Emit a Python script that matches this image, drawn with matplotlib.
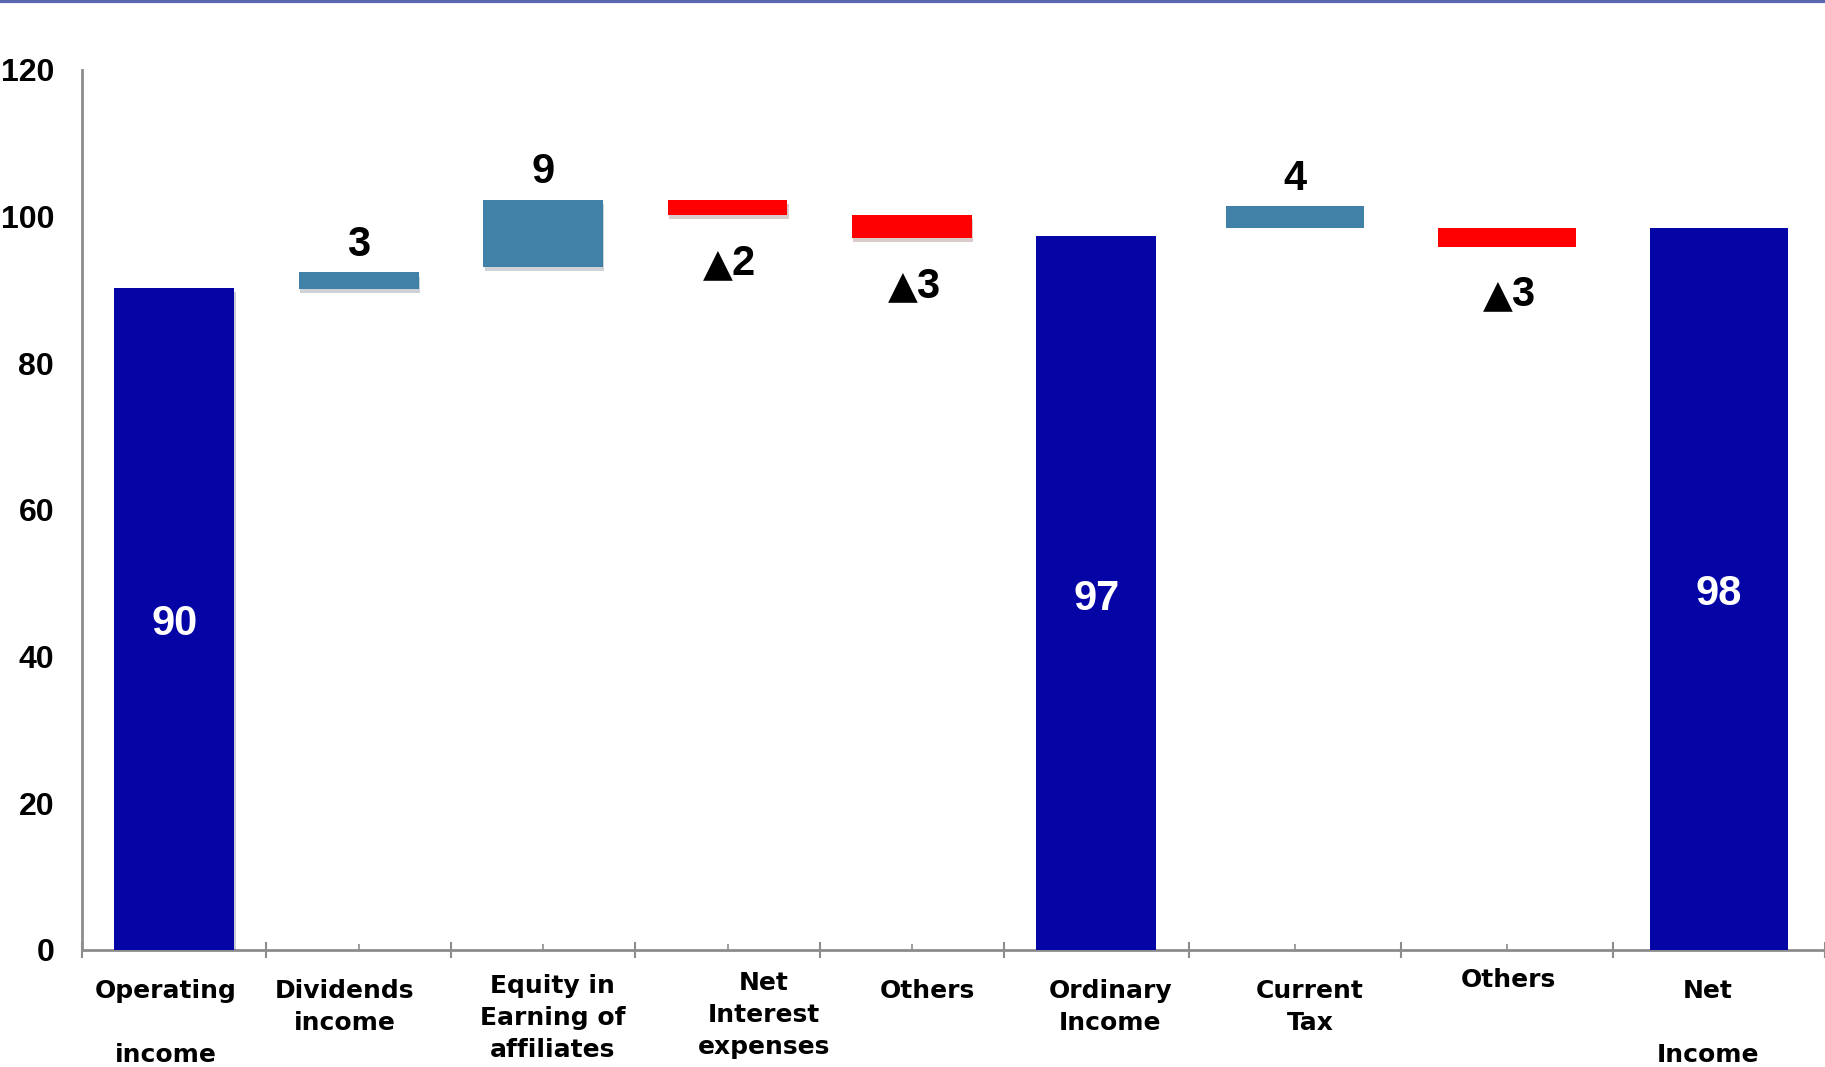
import numpy as np
import matplotlib.pyplot as plt
from matplotlib import patheffects as pe
from matplotlib.lines import Line2D

plt.rcParams['font.family'] = ['Liberation Sans', 'DejaVu Sans']

# chart data (waterfall: each bar spans low -> high)
categories = ["Operating\n\nincome", "Dividends\nincome", "Equity in\nEarning of\naffiliates",
              "Net\nInterest\nexpenses", "Others", "Ordinary\nIncome", "Current\nTax",
              "Others", "Net\n\nIncome"]
bar_low = [0, 90.2, 93.1, 100.2, 97.1, 0, 98.4, 95.9, 0]
bar_high = [90.3, 92.4, 102.3, 102.3, 100.2, 97.3, 101.4, 98.5, 98.5]
kinds = ["total", "up", "up", "down", "down", "total", "up", "down", "total"]
value_labels = ["90", "3", "9", "▲2", "▲3", "97", "4", "▲3", "98"]
y_ticks = [0, 20, 40, 60, 80, 100, 120]

colors = {"total": "#0505a6", "up": "#4180a7", "down": "#ff0000"}
grey = "#8c8c8c"

# the right-hand three slots are a bit wider than the first six
slot_w = np.array([1.0] * 6 + [1.15] * 3)
edges = np.concatenate([[0], np.cumsum(slot_w)])
centers = edges[:-1] + slot_w / 2

# small nudges (points) of the category labels, as placed in the original slide
lab_dx = [-6, -10, 7, 26, 11, 10, 11, 1, -8]
lab_dy = [-21, -21, -17, -15, -21, -21, -21, -13, -21]

fig = plt.figure(figsize=(18.25, 10.67), dpi=100)
ax = fig.add_axes([0.0449, 0.1097, 0.9551, 0.8247])

low = np.array(bar_low)
high = np.array(bar_high)
bars = ax.bar(centers, high - low, bottom=low, width=slot_w * 0.65,
              color=[colors[k] for k in kinds], zorder=3)
# soft drop shadow on the first group only
for b in list(bars)[:5]:
    b.set_path_effects([pe.SimplePatchShadow(offset=(1, -3), alpha=0.2), pe.Normal()])

for i, (x, lab, k) in enumerate(zip(centers, value_labels, kinds)):
    if k == "total":
        ax.annotate(lab, (x, high[i] / 2), xytext=(0, -4), textcoords="offset points",
                    ha="center", va="center", color="white", fontsize=30, fontweight="bold")
    elif k == "up":
        ax.annotate(lab, (x, high[i]), xytext=(0, 20), textcoords="offset points",
                    ha="center", va="center", fontsize=30, fontweight="bold")
    else:
        # triangle (negative sign) drawn larger, digit in the normal face
        ax.annotate(lab[0], (x, low[i]), xytext=(4, -35), textcoords="offset points",
                    ha="right", va="center", fontsize=28, fontweight="bold",
                    fontfamily="DejaVu Sans")
        ax.annotate(lab[1:], (x, low[i]), xytext=(3, -35), textcoords="offset points",
                    ha="left", va="center", fontsize=30, fontweight="bold")

ax.set_xlim(0, edges[-1])
ax.set_ylim(0, 120)
ax.set_yticks(y_ticks)
ax.tick_params(axis="y", length=0, pad=20, labelsize=23)
for t in ax.get_yticklabels():
    t.set_fontweight("bold")

ax.set_xticks(edges)
ax.set_xticklabels([])
ax.set_xticks(centers, minor=True)
ax.set_xticklabels([], minor=True)
ax.tick_params(axis="x", which="major", direction="inout", length=11, width=1.5, color=grey)
ax.tick_params(axis="x", which="minor", direction="in", length=4, width=1.2, color=grey)

for x, name, dx, dy in zip(centers, categories, lab_dx, lab_dy):
    ax.annotate(name, (x, 0), xytext=(dx, dy), textcoords="offset points",
                ha="center", va="top", multialignment="center", linespacing=1.43,
                fontfamily="DejaVu Sans", fontweight="bold", fontsize=18,
                annotation_clip=False)

for s in ["top", "right"]:
    ax.spines[s].set_visible(False)
for s in ["left", "bottom"]:
    ax.spines[s].set_color(grey)
    ax.spines[s].set_linewidth(2)

fig.add_artist(Line2D([0, 1], [0.9986, 0.9986], transform=fig.transFigure,
                      color="#5b67b0", lw=3))

fig.savefig("out.png", dpi=100)
